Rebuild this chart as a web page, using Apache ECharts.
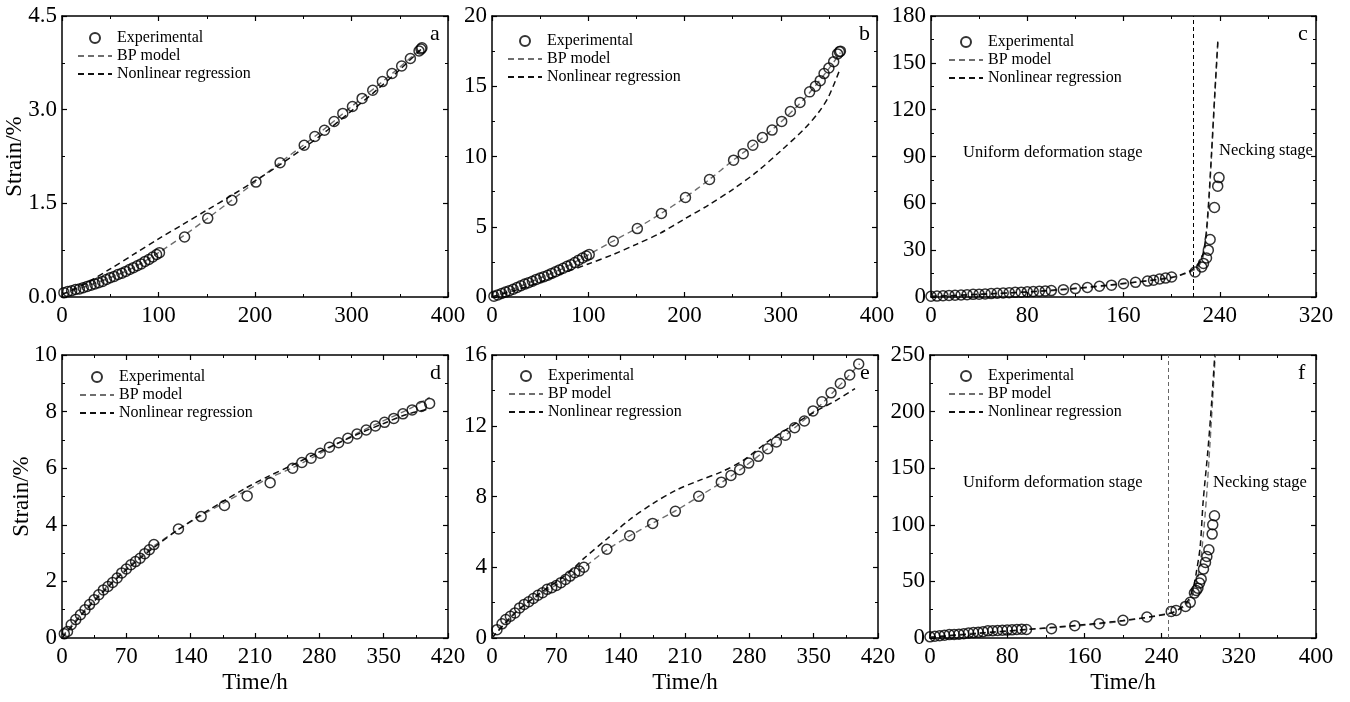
<!DOCTYPE html>
<html>
<head>
<meta charset="utf-8">
<title>Strain vs time</title>
<script src="https://cdn.jsdelivr.net/npm/echarts@6/dist/echarts.min.js"></script>
<style>
  html, body { margin: 0; padding: 0; background: #fff; }
  #chart { width: 1350px; height: 702px; }
</style>
</head>
<body>
<div id="chart"></div>
<script>
// ---- values ----
// a
var aExpTime = [2, 6, 10, 14, 18, 22, 26, 30, 34, 38, 42, 46, 50, 54, 58, 62, 66, 70, 74, 78, 82, 86, 90, 94, 98, 101, 127, 151, 176, 201, 226, 251, 262, 272, 282, 291, 301, 311, 322, 332, 342, 352, 361, 370, 372, 373]
var aExpStrain = [0.07, 0.09, 0.10, 0.12, 0.13, 0.15, 0.17, 0.19, 0.21, 0.23, 0.25, 0.28, 0.31, 0.33, 0.36, 0.38, 0.41, 0.44, 0.47, 0.50, 0.53, 0.57, 0.60, 0.64, 0.68, 0.71, 0.96, 1.26, 1.55, 1.84, 2.15, 2.43, 2.57, 2.67, 2.81, 2.94, 3.05, 3.18, 3.31, 3.45, 3.58, 3.70, 3.82, 3.94, 3.97, 3.99]
var aBpTime = [0, 25, 50, 75, 100, 125, 150, 175, 200, 225, 250, 275, 300, 325, 350, 373]
var aBpStrain = [0.05, 0.17, 0.31, 0.48, 0.71, 0.97, 1.25, 1.54, 1.84, 2.14, 2.43, 2.73, 3.05, 3.36, 3.68, 3.99]
var aNlTime = [0, 25, 50, 75, 100, 125, 150, 175, 200, 225, 250, 275, 300, 325, 350, 373]
var aNlStrain = [0.04, 0.22, 0.45, 0.69, 0.93, 1.16, 1.39, 1.62, 1.86, 2.11, 2.38, 2.67, 2.98, 3.30, 3.64, 3.98]
// b
var bExpTime = [2, 6, 10, 14, 18, 22, 26, 30, 34, 38, 42, 46, 50, 54, 58, 62, 66, 70, 74, 78, 82, 86, 90, 94, 98, 101, 126, 151, 176, 201, 226, 251, 261, 271, 281, 291, 301, 310, 320, 330, 336, 341, 345, 350, 355, 359, 361, 362]
var bExpStrain = [0.05, 0.15, 0.25, 0.35, 0.45, 0.55, 0.68, 0.80, 0.92, 1.02, 1.12, 1.25, 1.35, 1.45, 1.55, 1.68, 1.80, 1.93, 2.05, 2.18, 2.30, 2.45, 2.62, 2.78, 2.92, 3.02, 3.97, 4.87, 5.94, 7.08, 8.36, 9.74, 10.2, 10.8, 11.35, 11.88, 12.5, 13.2, 13.85, 14.6, 15.0, 15.4, 15.9, 16.3, 16.75, 17.3, 17.45, 17.5]
var bBpTime = [0, 25, 50, 75, 100, 125, 150, 175, 200, 225, 250, 275, 300, 325, 350, 362]
var bBpStrain = [0, 0.65, 1.35, 2.08, 3.0, 3.95, 4.88, 5.92, 7.05, 8.32, 9.7, 11.0, 12.45, 14.15, 16.25, 17.4]
var bNlTime = [0, 25, 50, 70, 100, 125, 150, 175, 200, 225, 250, 275, 300, 325, 340, 350, 362]
var bNlStrain = [0, 0.5, 1.05, 1.6, 2.35, 3.0, 3.75, 4.55, 5.55, 6.55, 7.65, 8.9, 10.4, 12.0, 13.2, 14.3, 16.3]
// c
var cExpTime = [0, 5, 10, 15, 20, 25, 30, 35, 40, 45, 50, 55, 60, 65, 70, 75, 80, 85, 90, 95, 100, 110, 120, 130, 140, 150, 160, 170, 180, 185, 190, 195, 200, 219.5, 225, 226.5, 229, 230.5, 232, 235.6, 238.3, 239.4]
var cExpStrain = [0.5, 0.6, 0.8, 1.0, 1.1, 1.3, 1.5, 1.7, 1.8, 2.0, 2.2, 2.4, 2.6, 2.8, 3.0, 3.1, 3.3, 3.5, 3.7, 3.9, 4.1, 4.7, 5.4, 6.1, 6.9, 7.6, 8.5, 9.4, 10.2, 10.8, 11.5, 12.1, 12.8, 16, 19.2, 21.5, 25, 30, 36.8, 57.3, 71, 76.5]
var cBpTime = [0, 50, 100, 150, 200, 212, 220, 225, 228, 230.5, 233, 236, 238.5]
var cBpStrain = [0.5, 2.2, 4.0, 7.5, 12.8, 15, 18, 23, 33, 55, 88, 130, 164]
var cNlTime = [0, 50, 100, 150, 200, 212, 220, 225, 228, 230.5, 233, 236, 238.5]
var cNlStrain = [0.3, 2.0, 4.3, 7.9, 12.4, 15.5, 19, 25, 36, 58, 90, 132, 165]
var cBoundary = 218
// d
var dExpTime = [2.5, 6, 10, 15, 20, 25, 30, 35, 40, 45, 50, 55, 60, 65, 70, 75, 80, 85, 90, 95, 100, 126.7, 151.4, 176.8, 201.5, 226.5, 251, 261, 271, 281, 291, 301, 311, 321, 331, 341, 351, 361, 371, 381, 391, 400]
var dExpStrain = [0.15, 0.23, 0.47, 0.65, 0.82, 1.0, 1.18, 1.35, 1.53, 1.7, 1.82, 1.96, 2.12, 2.3, 2.44, 2.59, 2.7, 2.82, 2.98, 3.12, 3.3, 3.85, 4.29, 4.68, 5.02, 5.49, 6.0, 6.2, 6.35, 6.53, 6.74, 6.9, 7.06, 7.21, 7.35, 7.49, 7.62, 7.76, 7.92, 8.06, 8.18, 8.29]
var dBpTime = [0, 25, 50, 75, 100, 125, 150, 175, 200, 225, 250, 275, 300, 325, 350, 375, 400]
var dBpStrain = [0.05, 1.0, 1.85, 2.6, 3.25, 3.8, 4.3, 4.75, 5.2, 5.65, 6.0, 6.42, 6.88, 7.3, 7.68, 8.05, 8.5]
var dNlTime = [0, 25, 50, 75, 100, 125, 150, 175, 200, 225, 250, 275, 300, 325, 350, 375, 400]
var dNlStrain = [0, 0.95, 1.8, 2.55, 3.2, 3.8, 4.33, 4.82, 5.3, 5.72, 6.1, 6.5, 6.88, 7.25, 7.58, 7.9, 8.1]
// e
var eExpTime = [5.4, 10.9, 15, 20, 25, 30, 35, 40, 45, 50, 55, 60, 65, 70, 75, 80, 85, 90, 95, 100, 125, 149.8, 174.8, 199.5, 224.9, 249.5, 260, 269.5, 279.3, 289.8, 300, 309.4, 319.2, 329.3, 339.9, 349.3, 359, 368.9, 379, 389.2, 399]
var eExpStrain = [0.47, 0.8, 1.04, 1.23, 1.42, 1.7, 1.9, 2.05, 2.23, 2.42, 2.56, 2.75, 2.84, 2.97, 3.13, 3.31, 3.5, 3.69, 3.79, 4.0, 5.02, 5.78, 6.48, 7.16, 8.01, 8.81, 9.19, 9.51, 9.89, 10.27, 10.7, 11.08, 11.46, 11.89, 12.27, 12.84, 13.35, 13.86, 14.39, 14.87, 15.49]
var eBpTime = [0, 25, 50, 75, 100, 125, 150, 175, 200, 225, 250, 275, 300, 325, 350, 375, 400]
var eBpStrain = [0, 1.45, 2.4, 3.15, 4.0, 4.98, 5.78, 6.5, 7.2, 8.0, 8.8, 9.7, 10.7, 11.7, 12.8, 14.1, 15.5]
var eNlTime = [0, 25, 50, 75, 90, 100, 125, 150, 175, 200, 225, 250, 275, 300, 325, 350, 375, 395]
var eNlStrain = [0, 1.4, 2.45, 3.35, 4.0, 4.5, 5.6, 6.7, 7.6, 8.35, 8.9, 9.4, 10.1, 11.1, 11.95, 12.75, 13.45, 14.1]
// f
var fExpTime = [0, 5, 10, 15, 20, 25, 30, 35, 40, 45, 50, 55, 60, 65, 70, 75, 80, 85, 90, 95, 100, 125.9, 150, 175.2, 200, 224.8, 250, 255, 264.8, 269.7, 274, 275.9, 277.6, 279.3, 281, 283.4, 285.5, 286.9, 289, 292.4, 293, 294.8]
var fExpStrain = [1, 1.5, 2, 2.5, 3, 3.2, 3.4, 3.8, 4.4, 4.8, 5.0, 5.6, 6.3, 6.5, 6.6, 6.8, 7.0, 7.2, 7.5, 7.8, 7.5, 8.2, 10.9, 12.6, 15.6, 18.5, 23.5, 24.4, 27.9, 31.5, 39.7, 42, 44, 48.5, 52, 60.9, 66.8, 72, 78, 91.8, 100, 108]
var fBpTime = [0, 50, 100, 150, 200, 250, 262, 268, 272, 276, 280, 284, 287, 290, 293, 296]
var fBpStrain = [1, 4.5, 7.5, 10.5, 15, 22.5, 27, 32, 38, 48, 66, 98, 130, 170, 212, 255]
var fNlTime = [0, 50, 100, 150, 200, 250, 262, 268, 273, 276, 280, 283, 288, 292, 296]
var fNlStrain = [0.5, 4, 7.5, 11, 15.5, 22, 28, 34, 45, 58, 81, 120, 166, 210, 262]
var fBoundary = 247

var font = 'Liberation Serif, Times New Roman, serif'
// legend entries; the line entries hide the dot ECharts puts on line icons
var legendItems = [
  { name: 'Experimental' },
  { name: 'BP model', itemStyle: { color: 'rgba(0,0,0,0)', borderWidth: 0 } },
  { name: 'Nonlinear regression', itemStyle: { color: 'rgba(0,0,0,0)', borderWidth: 0 } }
]

function zip(xs, ys) {
  return xs.map(function(x, i) { return [x, ys[i]] })
}

// layout of the six panels
var panels = [
  { letter: 'a', grid: { left: 62, top: 16, width: 386, height: 281 }, xMax: 400, xStep: 100, yMax: 4.5, yStep: 1.5, yDec: 1,
    yName: 'Strain/%', yNameGap: 36, xName: '', legend: [72, 25], exp: [aExpTime, aExpStrain], bp: [aBpTime, aBpStrain], nl: [aNlTime, aNlStrain] },
  { letter: 'b', grid: { left: 492, top: 16, width: 385, height: 281 }, xMax: 400, xStep: 100, yMax: 20, yStep: 5, yDec: 0,
    yName: '', xName: '', legend: [502, 28], exp: [bExpTime, bExpStrain], bp: [bBpTime, bBpStrain], nl: [bNlTime, bNlStrain] },
  { letter: 'c', grid: { left: 931, top: 16, width: 385, height: 281 }, xMax: 320, xStep: 80, yMax: 180, yStep: 30, yDec: 0,
    yName: '', xName: '', legend: [943, 29], exp: [cExpTime, cExpStrain], bp: [cBpTime, cBpStrain], nl: [cNlTime, cNlStrain],
    boundary: cBoundary, boundaryColor: '#000' },
  { letter: 'd', grid: { left: 62, top: 355, width: 386, height: 283 }, xMax: 420, xStep: 70, yMax: 10, yStep: 2, yDec: 0,
    yName: 'Strain/%', yNameGap: 29, xName: 'Time/h', legend: [74, 364], exp: [dExpTime, dExpStrain], bp: [dBpTime, dBpStrain], nl: [dNlTime, dNlStrain] },
  { letter: 'e', grid: { left: 492, top: 355, width: 386, height: 283 }, xMax: 420, xStep: 70, yMax: 16, yStep: 4, yDec: 0,
    yName: '', xName: 'Time/h', legend: [503, 363], exp: [eExpTime, eExpStrain], bp: [eBpTime, eBpStrain], nl: [eNlTime, eNlStrain] },
  { letter: 'f', grid: { left: 930, top: 355, width: 386, height: 283 }, xMax: 400, xStep: 80, yMax: 250, yStep: 50, yDec: 0,
    yName: '', xName: 'Time/h', legend: [943, 363], exp: [fExpTime, fExpStrain], bp: [fBpTime, fBpStrain], nl: [fNlTime, fNlStrain],
    boundary: fBoundary, boundaryColor: '#666' }
]

var tickStyle = { inside: true, length: 5, lineStyle: { color: '#000', width: 1.2 } }
var minorStyle = { show: true, splitNumber: 2, length: 3, lineStyle: { color: '#000', width: 1 } }
var lineStyleAxis = { color: '#000', width: 1.5 }

var grids = []
var xAxes = []
var yAxes = []
var series = []
var legends = []
var graphics = []

panels.forEach(function(p, i) {
  grids.push(p.grid)
  var xi = xAxes.length
  var yi = yAxes.length
  // bottom x axis with labels
  xAxes.push({
    type: 'value', gridIndex: i, min: 0, max: p.xMax, interval: p.xStep, position: 'bottom',
    axisLine: { show: true, onZero: false, lineStyle: lineStyleAxis },
    axisTick: tickStyle, minorTick: minorStyle, splitLine: { show: false },
    axisLabel: { fontFamily: font, fontSize: 23, color: '#000', margin: 7, showMaxLabel: true, showMinLabel: true },
    name: p.xName, nameLocation: 'middle', nameGap: 33, nameMoveOverlap: false,
    nameTextStyle: { fontFamily: font, fontSize: 23, color: '#000' }
  })
  // top mirror
  xAxes.push({
    type: 'value', gridIndex: i, min: 0, max: p.xMax, interval: p.xStep, position: 'top',
    axisLine: { show: true, onZero: false, lineStyle: lineStyleAxis },
    axisTick: tickStyle, minorTick: minorStyle, splitLine: { show: false }, axisLabel: { show: false }
  })
  yAxes.push({
    type: 'value', gridIndex: i, min: 0, max: p.yMax, interval: p.yStep, position: 'left',
    axisLine: { show: true, onZero: false, lineStyle: lineStyleAxis },
    axisTick: tickStyle, minorTick: minorStyle, splitLine: { show: false },
    axisLabel: {
      fontFamily: font, fontSize: 23, color: '#000', margin: 5, showMaxLabel: true, showMinLabel: true,
      formatter: function(v) { return v.toFixed(p.yDec) }
    },
    name: p.yName, nameLocation: 'middle', nameGap: p.yNameGap || 30, nameMoveOverlap: false,
    nameTextStyle: { fontFamily: font, fontSize: 23, color: '#000' }
  })
  // right mirror
  yAxes.push({
    type: 'value', gridIndex: i, min: 0, max: p.yMax, interval: p.yStep, position: 'right',
    axisLine: { show: true, onZero: false, lineStyle: lineStyleAxis },
    axisTick: tickStyle, minorTick: minorStyle, splitLine: { show: false }, axisLabel: { show: false }
  })

  var expSeries = {
    name: 'Experimental', type: 'scatter', xAxisIndex: xi, yAxisIndex: yi, z: 4,
    symbol: 'circle', symbolSize: 10,
    itemStyle: { color: 'rgba(255,255,255,0)', borderColor: '#000', borderWidth: 1.5 },
    data: zip(p.exp[0], p.exp[1])
  }
  if (p.boundary !== undefined) {
    expSeries.markLine = {
      silent: true, symbol: ['none', 'none'], label: { show: false },
      lineStyle: { type: [4, 3], color: p.boundaryColor, width: 1 },
      data: [{ xAxis: p.boundary }]
    }
  }
  series.push(expSeries)
  series.push({
    name: 'BP model', type: 'line', xAxisIndex: xi, yAxisIndex: yi, z: 3,
    symbol: 'none', smooth: 0.3,
    lineStyle: { color: '#6e6e6e', width: 1.4, type: [6, 4] },
    itemStyle: { color: '#6e6e6e' },
    data: zip(p.bp[0], p.bp[1])
  })
  series.push({
    name: 'Nonlinear regression', type: 'line', xAxisIndex: xi, yAxisIndex: yi, z: 3,
    symbol: 'none', smooth: 0.3,
    lineStyle: { color: '#111', width: 1.5, type: [6, 4] },
    itemStyle: { color: '#111' },
    data: zip(p.nl[0], p.nl[1])
  })

  legends.push({
    left: p.legend[0], top: p.legend[1], orient: 'vertical',
    itemWidth: 34, itemHeight: 10, itemGap: 2,
    textStyle: { fontFamily: font, fontSize: 16, color: '#000' },
    data: legendItems
  })

  graphics.push({
    type: 'text', left: p.grid.left + p.grid.width - 18, top: p.grid.top + 7,
    style: { text: p.letter, font: '22px ' + font, fill: '#000' }
  })
})

// stage annotations for c and f
var stageFont = '16.5px ' + font
graphics.push({ type: 'text', left: 963, top: 144, style: { text: 'Uniform deformation stage', font: stageFont, fill: '#000' } })
graphics.push({ type: 'text', left: 1219, top: 142, style: { text: 'Necking stage', font: stageFont, fill: '#000' } })
graphics.push({ type: 'text', left: 963, top: 474, style: { text: 'Uniform deformation stage', font: stageFont, fill: '#000' } })
graphics.push({ type: 'text', left: 1213, top: 474, style: { text: 'Necking stage', font: stageFont, fill: '#000' } })

var chart = echarts.init(document.getElementById('chart'))
chart.setOption({
  animation: false,
  backgroundColor: '#fff',
  grid: grids,
  xAxis: xAxes,
  yAxis: yAxes,
  legend: legends,
  graphic: graphics,
  series: series
})
</script>
</body>
</html>
